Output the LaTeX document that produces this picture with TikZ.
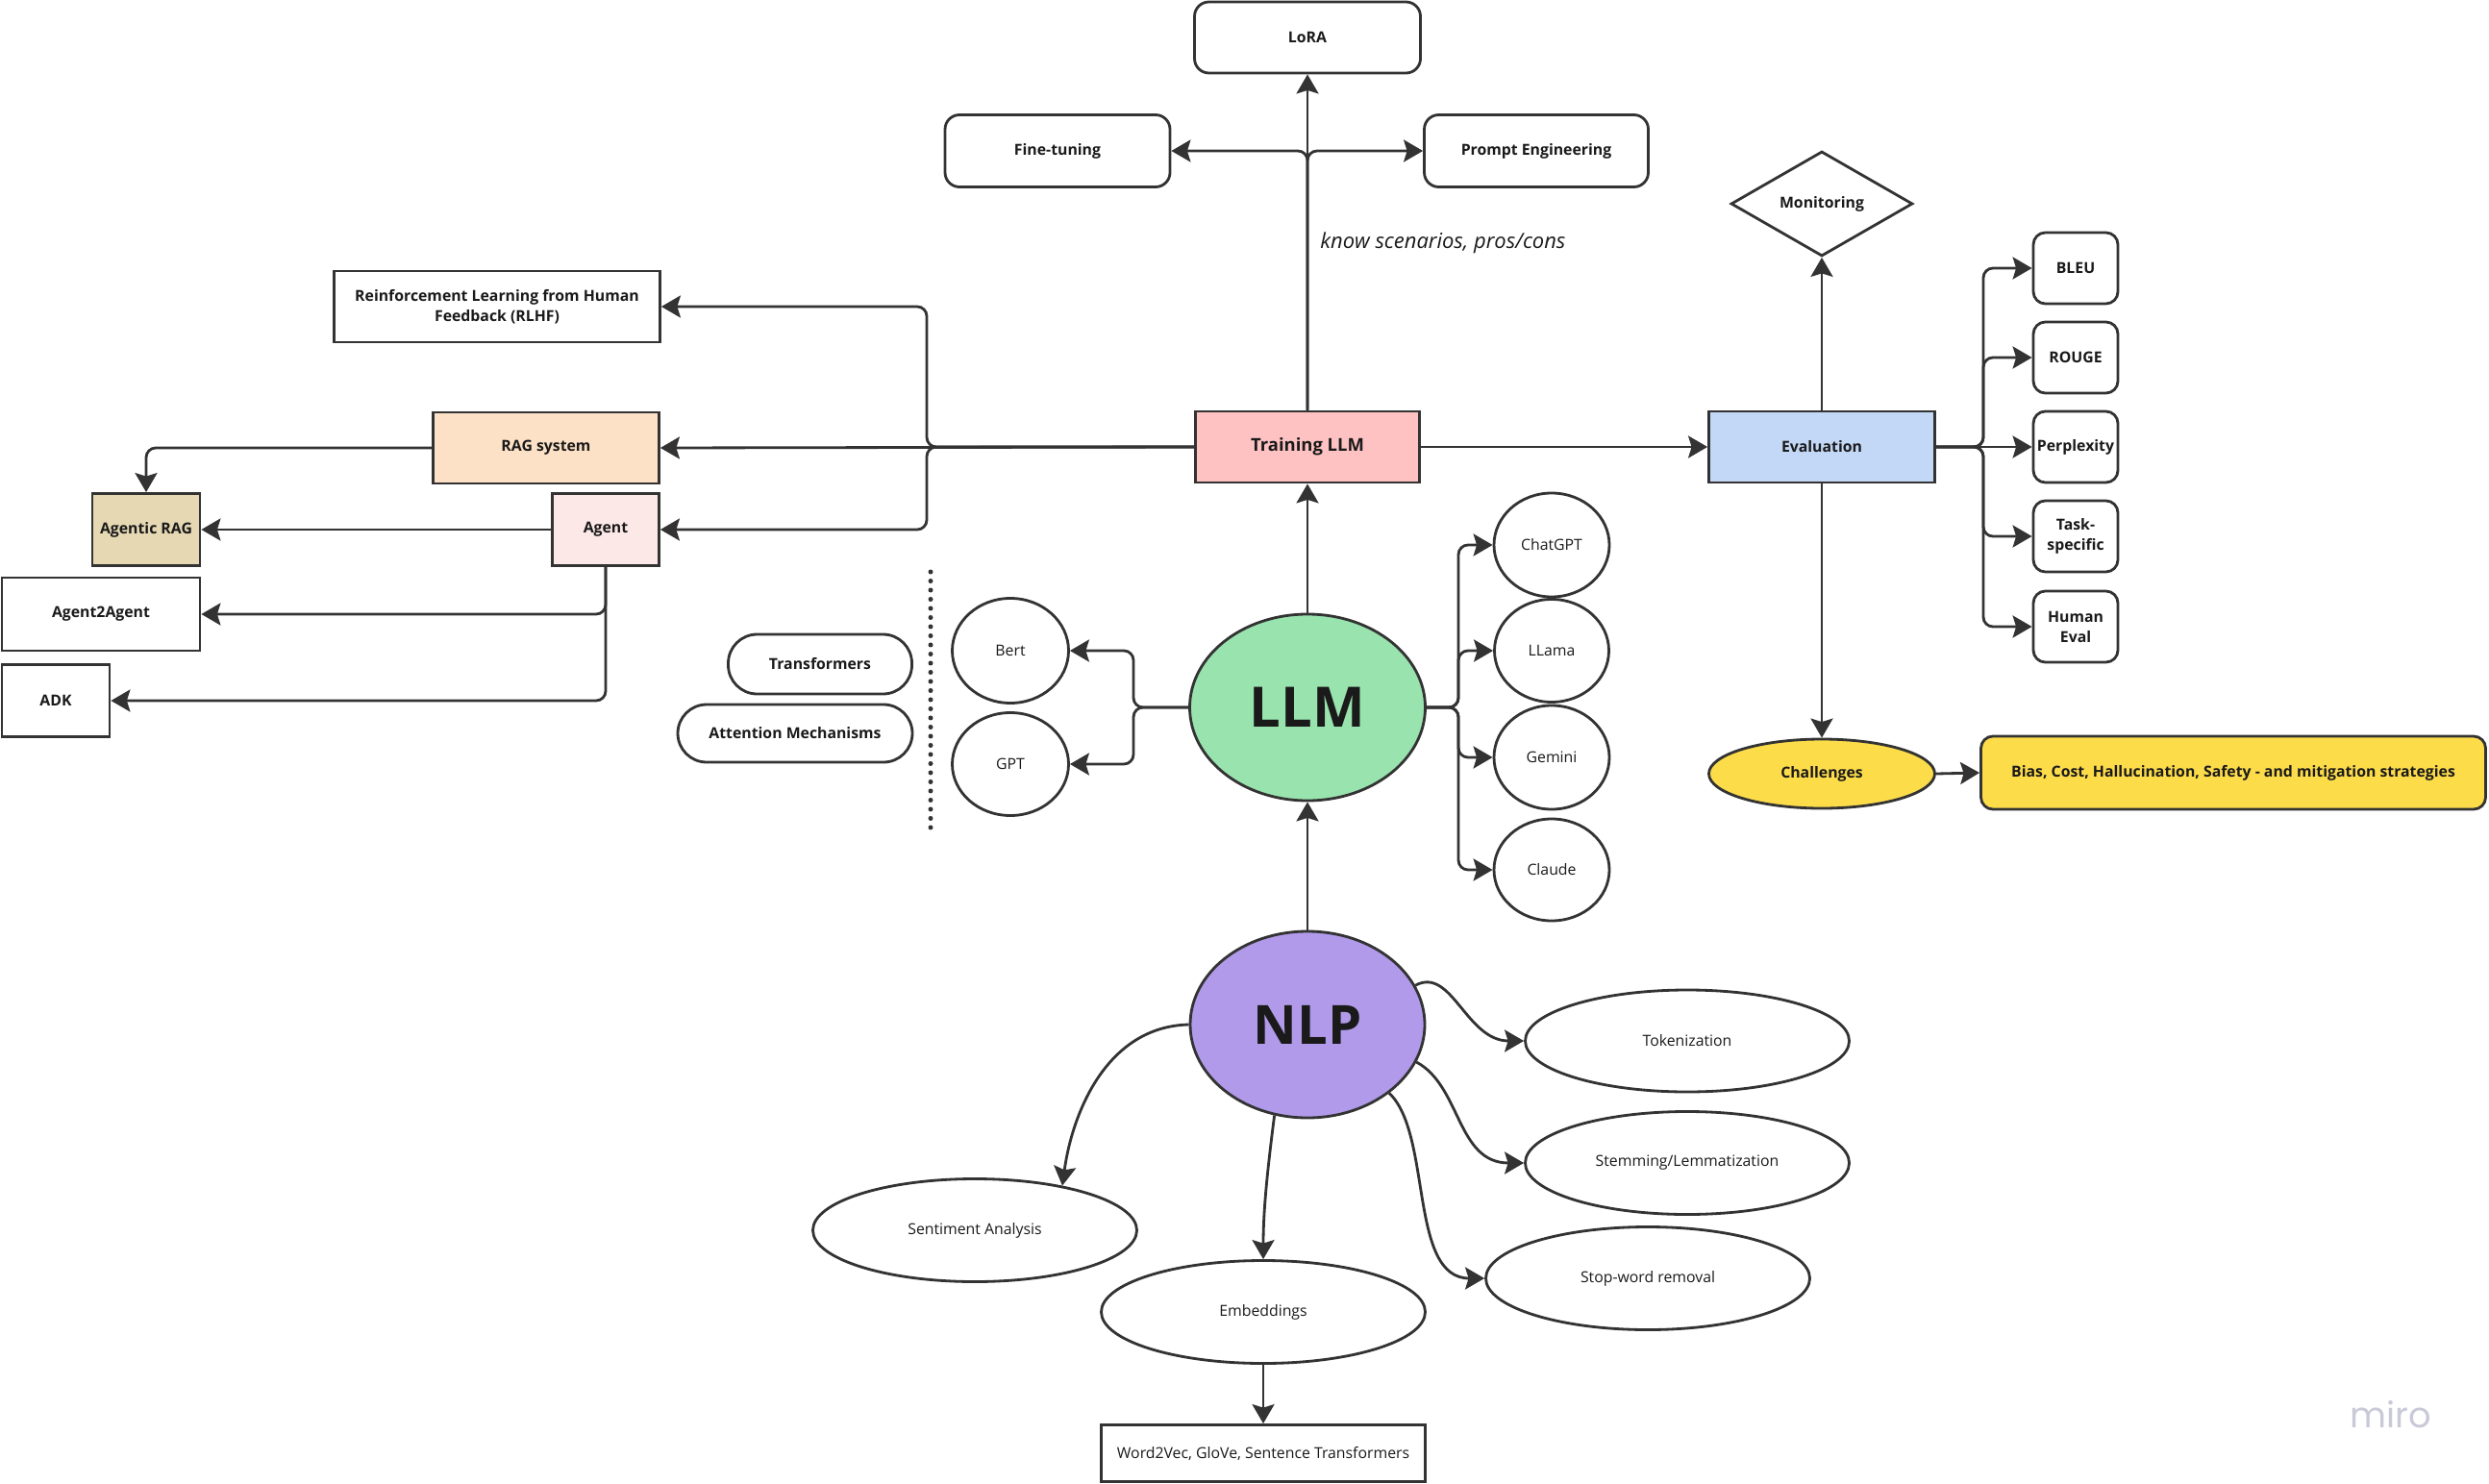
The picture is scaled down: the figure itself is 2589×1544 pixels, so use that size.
\documentclass[tikz,border=0pt]{standalone}
\usepackage{fontspec}
\setmainfont{Open Sans}
\newfontfamily\mirofont{Poppins}
\usetikzlibrary{arrows.meta,shapes.geometric,calc}
\definecolor{ln}{HTML}{333333}
\definecolor{txt}{HTML}{1A1A1A}
\definecolor{cTrain}{HTML}{FFC2C2}
\definecolor{cEval}{HTML}{C3D8F7}
\definecolor{cRag}{HTML}{FDE1C7}
\definecolor{cAgent}{HTML}{FDE8E8}
\definecolor{cAgRag}{HTML}{E5D8B2}
\definecolor{cLLM}{HTML}{98E3AE}
\definecolor{cNLP}{HTML}{B09AE9}
\definecolor{cYel}{HTML}{FDDC4A}
\definecolor{cMiro}{HTML}{C9C9D7}
\begin{document}
\begin{tikzpicture}[x=0.02cm,y=-0.02cm,
  sz/.style 2 args={minimum width=#1*0.02cm, minimum height=#2*0.02cm},
  base/.style={draw=ln, line width=1.6pt, inner sep=0pt, align=center, text=txt},
  bfont/.style={font=\bfseries\fontsize{9}{12}\selectfont},
  rfont/.style={font=\fontsize{9}{12}\selectfont},
  rbox/.style={base, bfont, rounded corners=0.3cm, fill=white},
  sbox/.style={base, bfont, fill=white},
  pill/.style={base, bfont, rounded corners=0.6cm, fill=white},
  ell/.style={base, rfont, ellipse, fill=white},
  arr/.style={draw=ln, line width=1.6pt, -{Stealth[length=0.4cm,width=0.46cm,inset=0.07cm]}},
  rc/.style={rounded corners=0.2cm},
  dotline/.style={draw=ln, line width=0.1cm, line cap=round, dash pattern=on 0pt off 0.19cm}
]
\useasboundingbox (0,0) rectangle (2589,1544);

% ---- top: training branches
\node[rbox, sz={235}{74}] (lora) at (1360,39) {LoRA};
\node[rbox, sz={234}{75}] (fine) at (1100,157) {Fine-tuning};
\node[rbox, sz={233}{75}] (prompt) at (1598,157) {Prompt Engineering};
\node[anchor=west, inner sep=0pt, text=txt, font=\itshape\fontsize{12.5}{15}\selectfont] (know) at (1373,253) {know scenarios, pros/cons};

\node[sbox, fill=cTrain, font=\bfseries\fontsize{10.5}{12}\selectfont, sz={233}{74}] (train) at (1360,465) {Training LLM};
\node[sbox, fill=cEval, sz={235}{74}] (eval) at (1895,465) {Evaluation};

% ---- left side
\node[sbox, sz={339}{74}] (rlhf) at (517,319) {Reinforcement Learning from Human\\Feedback (RLHF)};
\node[sbox, fill=cRag, sz={235}{74}] (rag) at (568,466) {RAG system};
\node[sbox, fill=cAgent, sz={111}{75}] (agent) at (630,551) {Agent};
\node[sbox, fill=cAgRag, sz={112}{75}] (agrag) at (152,551) {Agentic RAG};
\node[sbox, sz={206}{76}] (a2a) at (105,639) {Agent2Agent};
\node[sbox, sz={112}{75}] (adk) at (58,729) {ADK};

% ---- evaluation side
\node[base, bfont, diamond, fill=white, sz={189}{109}] (mon) at (1895,212) {Monitoring};
\node[rbox, rounded corners=0.25cm, sz={88}{74}] (bleu) at (2159,279) {BLEU};
\node[rbox, rounded corners=0.25cm, sz={88}{74}] (rouge) at (2159,372) {ROUGE};
\node[rbox, rounded corners=0.25cm, sz={88}{74}] (perp) at (2159,465) {Perplexity};
\node[rbox, rounded corners=0.25cm, sz={88}{74}] (task) at (2159,558) {Task-\\specific};
\node[rbox, rounded corners=0.25cm, sz={88}{74}] (human) at (2159,652) {Human\\Eval};
\node[base, bfont, ellipse, fill=cYel, sz={235}{72}] (chal) at (1895,805) {Challenges};
\node[rbox, fill=cYel, rounded corners=0.25cm, sz={525}{76}] (bias) at (2323,804) {Bias, Cost, Hallucination, Safety - and mitigation strategies};

% ---- LLM
\node[base, ellipse, fill=cLLM, sz={245}{194}, font=\bfseries\fontsize{33}{36}\selectfont] (llm) at (1360,736) {LLM};
\node[ell, sz={121}{109}] (bert) at (1051,677) {Bert};
\node[ell, sz={121}{107}] (gpt) at (1051,795) {GPT};
\node[pill, sz={191}{62}] (trans) at (853,691) {Transformers};
\node[pill, sz={244}{60}] (attn) at (827,763) {Attention Mechanisms};
\coordinate (dtop) at (968,595);
\coordinate (dbot) at (968,867);
\draw[dotline] (dtop) -- (dbot);
\node[ell, sz={120}{108}] (chatgpt) at (1614,567) {ChatGPT};
\node[ell, sz={119}{107}] (llama) at (1614,677) {LLama};
\node[ell, sz={120}{108}] (gemini) at (1614,788) {Gemini};
\node[ell, sz={120}{106}] (claude) at (1614,905) {Claude};

% ---- NLP
\node[base, ellipse, fill=cNLP, sz={244}{194}, font=\bfseries\fontsize{32}{36}\selectfont] (nlp) at (1360,1066) {NLP};
\node[ell, sz={337}{106}] (tok) at (1755,1083) {Tokenization};
\node[ell, sz={337}{107}] (stem) at (1755,1210) {Stemming/Lemmatization};
\node[ell, sz={337}{107}] (stop) at (1714,1330) {Stop-word removal};
\node[ell, sz={337}{107}] (sent) at (1014,1280) {Sentiment Analysis};
\node[ell, sz={337}{107}] (emb) at (1314,1365) {Embeddings};
\node[base, rfont, fill=white, sz={337}{59}] (w2v) at (1314,1512) {Word2Vec, GloVe, Sentence Transformers};

\node[text=cMiro, font=\mirofont\fontsize{21}{21}\selectfont] (wm) at (2487,1472) {miro};

% ---- connectors
\draw[arr] (train.north) -- (lora.south);
\draw[arr, rc] (train.north) |- (fine.east);
\draw[arr, rc] (train.north) |- (prompt.west);

\coordinate (jL) at (964,465);
\draw[arr, rc] (train.west) -- (jL) |- (rlhf.east);
\draw[arr, rc] (train.west) -- (jL) |- (agent.east);
\draw[arr] (train.west) -- (rag.east);
\draw[arr, rc] (rag.west) -| (agrag.north);
\draw[arr] (agent.west) -- (agrag.east);
\draw[arr, rc] (agent.south) |- (a2a.east);
\draw[arr, rc] (agent.south) |- (adk.east);

\draw[arr] (train.east) -- (eval.west);
\draw[arr] (eval.north) -- (mon.south);
\draw[arr] (eval.south) -- (chal.north);
\draw[arr] (chal.east) -- (bias.west);
\coordinate (jE) at (2063,465);
\draw[arr, rc] (eval.east) -- (jE) |- (bleu.west);
\draw[arr, rc] (eval.east) -- (jE) |- (rouge.west);
\draw[arr] (eval.east) -- (perp.west);
\draw[arr, rc] (eval.east) -- (jE) |- (task.west);
\draw[arr, rc] (eval.east) -- (jE) |- (human.west);

\draw[arr] (llm.north) -- (train.south);
\draw[arr] (nlp.north) -- (llm.south);

\coordinate (jB) at (1179,736);
\draw[arr, rc] (llm.west) -- (jB) |- (bert.east);
\draw[arr, rc] (llm.west) -- (jB) |- (gpt.east);
\coordinate (jC) at (1517,736);
\draw[arr, rc] (llm.east) -- (jC) |- (chatgpt.west);
\draw[arr, rc] (llm.east) -- (jC) |- (llama.west);
\draw[arr, rc] (llm.east) -- (jC) |- (gemini.west);
\draw[arr, rc] (llm.east) -- (jC) |- (claude.west);

\draw[arr] (nlp.20) .. controls (1510,1005) and (1525,1083) .. (tok.west);
\draw[arr] (nlp.-19) .. controls (1520,1130) and (1515,1210) .. (stem.west);
\draw[arr] (nlp.-40) .. controls (1490,1180) and (1465,1330) .. (stop.west);
\draw[arr] (nlp.west) .. controls (1150,1068) and (1115,1160) .. (sent.27);
\draw[arr] (nlp.-110) .. controls (1318,1220) and (1314,1260) .. (emb.north);
\draw[arr] (emb.south) -- (w2v.north);
\end{tikzpicture}
\end{document}
